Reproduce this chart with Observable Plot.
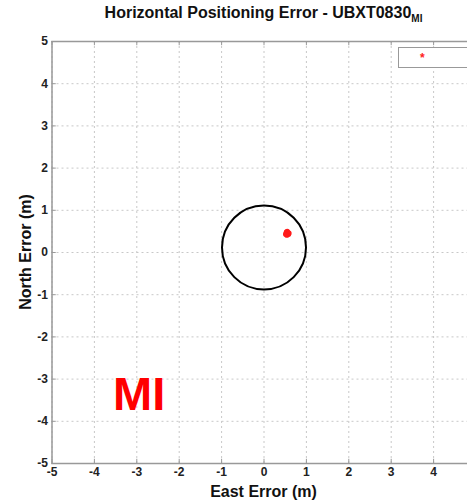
<!DOCTYPE html>
<html>
<head>
<meta charset="utf-8">
<script src="https://cdn.jsdelivr.net/npm/d3@7"></script>
<script src="https://cdn.jsdelivr.net/npm/@observablehq/plot@0.6"></script>
<style>
  html, body { margin: 0; padding: 0; background: #fff; overflow: hidden; width: 467px; height: 501px; }
  #wrap { position: relative; width: 467px; height: 501px; overflow: hidden; font-family: "Liberation Sans", Arial, sans-serif; }
  #chart { width: 476px; }
  #title { position: absolute; top: 4px; left: 0; width: 527px; text-align: center; font-weight: bold; font-size: 16px; color: #111; }
  #title sub { font-size: 10px; vertical-align: -4px; }
  #legend { position: absolute; left: 398px; top: 47px; width: 90px; height: 19px; border: 1.5px solid #999; background: #fff; }
  #legend span { position: absolute; left: 21px; top: 3px; color: #ff2020; font-size: 12px; font-weight: bold; }
  #mi { position: absolute; left: 113px; top: 370px; color: #ff0000; font-weight: bold; font-size: 47px; line-height: 1; }
</style>
</head>
<body>
<div id="wrap">
  <div id="chart"></div>
  <div id="title">Horizontal Positioning Error - UBXT0830<sub>MI</sub></div>
  <div id="legend"><span>*</span></div>
  <div id="mi">MI</div>
</div>
<script>
const xTicks = [-5, -4, -3, -2, -1, 0, 1, 2, 3, 4, 5];
const yTicks = [-5, -4, -3, -2, -1, 0, 1, 2, 3, 4, 5];
const xLabelTicks = [-5, -4, -3, -2, -1, 0, 1, 2, 3, 4];
const fixEast  = [0.52, 0.55, 0.57, 0.54, 0.58, 0.53, 0.56, 0.55, 0.59, 0.51];
const fixNorth = [0.46, 0.44, 0.47, 0.41, 0.43, 0.49, 0.45, 0.50, 0.46, 0.43];
const circleCenterEast = [0];
const circleCenterNorth = [0.12];

const fixes = fixEast.map((e, i) => ({e, n: fixNorth[i]}));
const circle = circleCenterEast.map((e, i) => ({e, n: circleCenterNorth[i]}));
const xLabel = "East Error (m)";
const yLabel = "North Error (m)";

const plot = Plot.plot({
  width: 476,
  height: 501,
  marginLeft: 51.5,
  marginRight: 0.5,
  marginTop: 41,
  marginBottom: 38,
  style: {fontFamily: "Liberation Sans, Arial, sans-serif", background: "#fff"},
  x: {domain: [-5, 5], label: null},
  y: {domain: [-5, 5], label: null},
  marks: [
    Plot.gridX(xTicks, {stroke: "#c8c8c8", strokeOpacity: 1, strokeDasharray: "2,3"}),
    Plot.gridY(yTicks, {stroke: "#c8c8c8", strokeOpacity: 1, strokeDasharray: "2,3"}),
    Plot.ruleX(xTicks, {y1: -5, y2: -4.9, stroke: "#999"}),
    Plot.ruleX(xTicks, {y1: 5, y2: 4.9, stroke: "#999"}),
    Plot.ruleY(yTicks, {x1: -5, x2: -4.9, stroke: "#999"}),
    Plot.frame({stroke: "#999", strokeWidth: 1.5}),
    Plot.axisX(xLabelTicks, {tickSize: 0, tickPadding: 4, fontSize: 12, fontWeight: "bold", fill: "#222", label: null, tickFormat: d => String(d)}),
    Plot.axisY(yTicks, {tickSize: 0, tickPadding: 4, fontSize: 12, fontWeight: "bold", fill: "#222", label: null, tickFormat: d => String(d)}),
    Plot.dot(circle, {x: "e", y: "n", r: 42, stroke: "#000", strokeWidth: 2, fill: "none"}),
    Plot.dot(fixes, {x: "e", y: "n", r: 2.6, fill: "#ff1a1a", stroke: "none"})
  ]
});
plot.style.maxWidth = "none";

const svg = d3.select(plot);
svg.append("text")
  .attr("x", 263.5).attr("y", 497)
  .attr("text-anchor", "middle")
  .attr("font-size", 16)
  .attr("font-weight", "bold")
  .attr("fill", "#111")
  .text(xLabel);
svg.append("text")
  .attr("transform", "translate(27,252) rotate(-90)")
  .attr("text-anchor", "middle")
  .attr("dominant-baseline", "middle")
  .attr("font-size", 16)
  .attr("font-weight", "bold")
  .attr("fill", "#111")
  .text(yLabel);

document.getElementById("chart").appendChild(plot);
</script>
</body>
</html>
